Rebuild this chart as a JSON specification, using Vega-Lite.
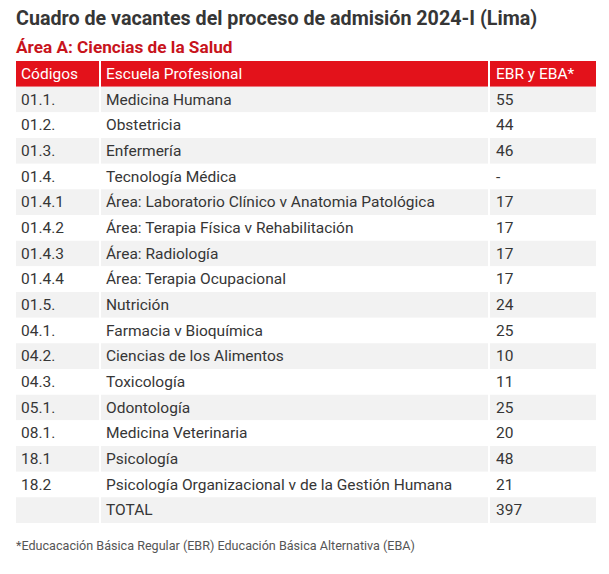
{
  "$schema": "https://vega.github.io/schema/vega-lite/v6.json",
  "background": "#ffffff",
  "padding": {"left": 16, "top": 9, "right": 5, "bottom": 5},
  "config": {
    "view": {"stroke": null},
    "font": "Roboto",
    "text": {"font": "Roboto"}
  },
  "title": {
    "text": "Cuadro de vacantes del proceso de admisión 2024-I (Lima)",
    "subtitle": "Área A: Ciencias de la Salud",
    "anchor": "start",
    "font": "Roboto",
    "fontSize": 19.7,
    "fontWeight": "bold",
    "color": "#363636",
    "subtitleFont": "Roboto",
    "subtitleFontSize": 17.2,
    "subtitleFontWeight": "bold",
    "subtitleColor": "#c8141c",
    "subtitlePadding": 10,
    "offset": 5
  },
  "data": {
    "values": [
      {"i": 0, "code": "Códigos", "name": "Escuela Profesional", "val": "EBR y EBA*"},
      {"i": 1, "code": "01.1.", "name": "Medicina Humana", "val": "55"},
      {"i": 2, "code": "01.2.", "name": "Obstetricia", "val": "44"},
      {"i": 3, "code": "01.3.", "name": "Enfermería", "val": "46"},
      {"i": 4, "code": "01.4.", "name": "Tecnología Médica", "val": "-"},
      {"i": 5, "code": "01.4.1", "name": "Área: Laboratorio Clínico v Anatomia Patológica", "val": "17"},
      {"i": 6, "code": "01.4.2", "name": "Área: Terapia Física v Rehabilitación", "val": "17"},
      {"i": 7, "code": "01.4.3", "name": "Área: Radiología", "val": "17"},
      {"i": 8, "code": "01.4.4", "name": "Área: Terapia Ocupacional", "val": "17"},
      {"i": 9, "code": "01.5.", "name": "Nutrición", "val": "24"},
      {"i": 10, "code": "04.1.", "name": "Farmacia v Bioquímica", "val": "25"},
      {"i": 11, "code": "04.2.", "name": "Ciencias de los Alimentos", "val": "10"},
      {"i": 12, "code": "04.3.", "name": "Toxicología", "val": "11"},
      {"i": 13, "code": "05.1.", "name": "Odontología", "val": "25"},
      {"i": 14, "code": "08.1.", "name": "Medicina Veterinaria", "val": "20"},
      {"i": 15, "code": "18.1", "name": "Psicología", "val": "48"},
      {"i": 16, "code": "18.2", "name": "Psicología Organizacional v de la Gestión Humana", "val": "21"},
      {"i": 17, "code": "", "name": "TOTAL", "val": "397"}
    ]
  },
  "vconcat": [
    {
      "spacing": 2,
      "hconcat": [
        {
          "width": 83,
          "height": 462,
          "layer": [
            {
              "mark": {"type": "rect"},
              "encoding": {
                "y": {"field": "i", "type": "ordinal", "axis": null, "scale": {"paddingInner": 0, "paddingOuter": 0}},
                "x": {"value": 0},
                "x2": {"value": "width"},
                "fill": {"condition": [{"test": "datum.i == 0", "value": "#e3121b"}, {"test": "datum.i % 2 == 1", "value": "#f2f2f2"}], "value": "#ffffff"}
              }
            },
            {
              "mark": {"type": "text", "align": "left", "baseline": "middle", "dx": 5, "fontSize": 15.5},
              "encoding": {
                "y": {"field": "i", "type": "ordinal", "axis": null},
                "x": {"value": 0},
                "text": {"field": "code"},
                "color": {"condition": {"test": "datum.i == 0", "value": "#ffffff"}, "value": "#363636"}
              }
            }
          ]
        },
        {
          "width": 387,
          "height": 462,
          "layer": [
            {
              "mark": {"type": "rect"},
              "encoding": {
                "y": {"field": "i", "type": "ordinal", "axis": null, "scale": {"paddingInner": 0, "paddingOuter": 0}},
                "x": {"value": 0},
                "x2": {"value": "width"},
                "fill": {"condition": [{"test": "datum.i == 0", "value": "#e3121b"}, {"test": "datum.i % 2 == 1", "value": "#f2f2f2"}], "value": "#ffffff"}
              }
            },
            {
              "mark": {"type": "text", "align": "left", "baseline": "middle", "dx": 5, "fontSize": 15.5},
              "encoding": {
                "y": {"field": "i", "type": "ordinal", "axis": null},
                "x": {"value": 0},
                "text": {"field": "name"},
                "color": {"condition": {"test": "datum.i == 0", "value": "#ffffff"}, "value": "#363636"}
              }
            }
          ]
        },
        {
          "width": 106,
          "height": 462,
          "layer": [
            {
              "mark": {"type": "rect"},
              "encoding": {
                "y": {"field": "i", "type": "ordinal", "axis": null, "scale": {"paddingInner": 0, "paddingOuter": 0}},
                "x": {"value": 0},
                "x2": {"value": "width"},
                "fill": {"condition": [{"test": "datum.i == 0", "value": "#e3121b"}, {"test": "datum.i % 2 == 1", "value": "#f2f2f2"}], "value": "#ffffff"}
              }
            },
            {
              "mark": {"type": "text", "align": "left", "baseline": "middle", "dx": 6, "fontSize": 15.5},
              "encoding": {
                "y": {"field": "i", "type": "ordinal", "axis": null},
                "x": {"value": 0},
                "text": {"field": "val"},
                "color": {"condition": {"test": "datum.i == 0", "value": "#ffffff"}, "value": "#363636"}
              }
            }
          ]
        }
      ]
    },
    {
      "width": 580,
      "height": 20,
      "transform": [{"filter": "datum.i == 0"}],
      "mark": {"type": "text", "align": "left", "baseline": "middle", "fontSize": 12.6, "color": "#555555"},
      "encoding": {
        "x": {"value": 0},
        "y": {"value": 10},
        "text": {"value": "*Educacación Básica Regular (EBR) Educación Básica Alternativa (EBA)"}
      }
    }
  ],
  "spacing": 12
}
